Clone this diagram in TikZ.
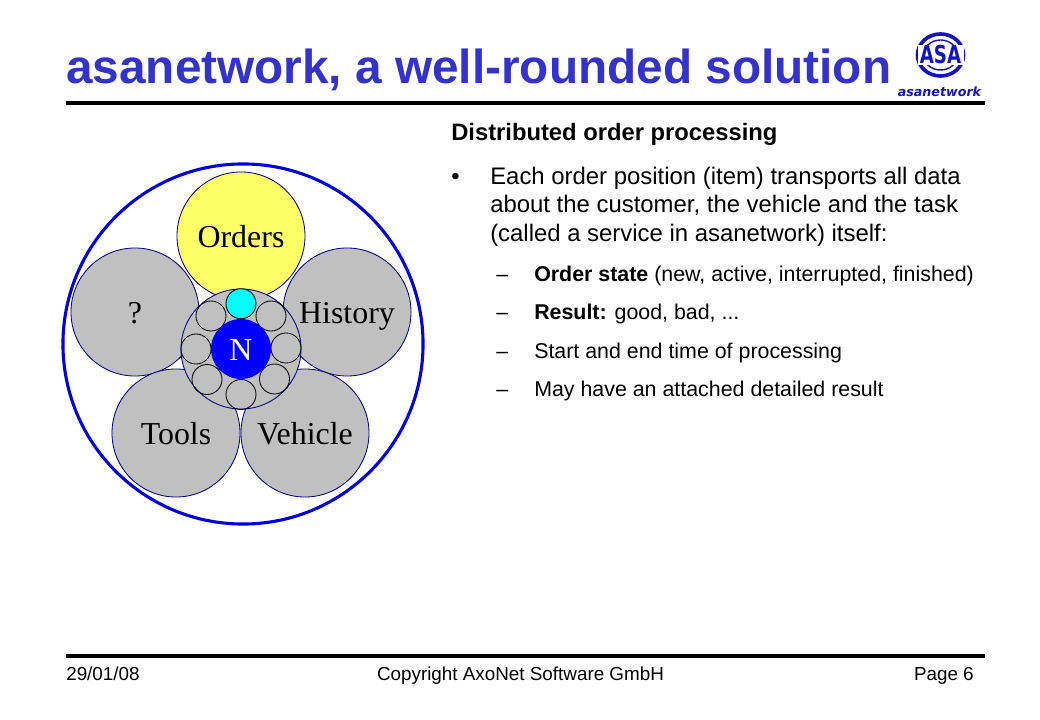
\documentclass[tikz,border=0pt]{standalone}
\usepackage{fontspec}
\setmainfont{Liberation Sans}
\newfontfamily\petalfont{Liberation Serif}
\newfontfamily\logofont{DejaVu Sans}
\usetikzlibrary{shapes.geometric}
\definecolor{titleblue}{RGB}{51,51,204}
\definecolor{ringblue}{RGB}{0,0,220}
\definecolor{petalgray}{RGB}{192,192,192}
\definecolor{petalline}{RGB}{0,0,128}
\definecolor{ordersyellow}{RGB}{255,255,102}
\definecolor{logoblue}{RGB}{20,20,190}
\definecolor{ballcyan}{RGB}{0,255,255}
\definecolor{coreblue}{RGB}{0,0,255}
\tikzset{
	petal/.style={circle, draw=petalline, line width=0.6pt, fill=petalgray, minimum size=128*0.7113pt, inner sep=0pt, text height=16.4pt, text depth=0pt, font=\petalfont\fontsize{22.7}{24}\selectfont},
	smallball/.style={circle, draw=black, line width=0.6pt, minimum size=30*0.7113pt, inner sep=0pt},
	bodytext/.style={anchor=base west, inner sep=0pt, font=\fontsize{17}{20}\selectfont},
	subtext/.style={anchor=base west, inner sep=0pt, font=\fontsize{15.2}{18}\selectfont},
	foottext/.style={inner sep=0pt, font=\fontsize{13.4}{16}\selectfont},
	rulebar/.style={line width=2.9pt}
}
\begin{document}
\begin{tikzpicture}[x=0.025cm, y=-0.025cm]
	%%%%% FRAME %%%%%
	\path[use as bounding box, fill=white] (0, 0) rectangle (1040, 720);

	\node[anchor=base west, inner sep=0pt, text=titleblue, font=\bfseries\fontsize{33.95}{36}\selectfont] (title) at (66, 83.5) {asanetwork, a well-rounded solution};
	\coordinate (ruleA) at (66, 103);
	\coordinate (ruleB) at (985, 103);
	\draw[rulebar] (ruleA) -- (ruleB);

	%%%%% LOGO %%%%%
	\node[draw=logoblue, ellipse, line width=2.6pt, minimum width=46*0.7113pt, minimum height=42*0.7113pt, inner sep=0pt] (logoring) at (940.5, 55) {};
	\node[draw=logoblue, ellipse, line width=1pt, minimum width=34*0.7113pt, minimum height=30*0.7113pt, inner sep=0pt] (logoinner) at (940.5, 55) {};
	\node[fill=white, minimum width=46*0.7113pt, minimum height=20*0.7113pt, inner sep=0pt] (logoback) at (940.5, 55) {};
	\node[inner sep=0pt, text=logoblue, xscale=0.74, font=\logofont\bfseries\fontsize{17.5}{18}\selectfont] (logoasa) at (940.5, 55) {ASA};
	\node[anchor=base, inner sep=0pt, text=logoblue, font=\logofont\bfseries\itshape\fontsize{9}{12}\selectfont] (logoname) at (939.5, 97) {asanetwork};

	%%%%% CIRCLES %%%%%
	\node[circle, draw=ringblue, line width=2.2pt, minimum size=360*0.7113pt, inner sep=0pt] (outer) at (243, 344) {};

	\node[petal, fill=ordersyellow] (orders) at (241, 236) {Orders};
	\node[petal] (unknown) at (135, 312) {?};
	\node[petal] (history) at (347, 312) {History};
	\node[petal] (tools) at (176, 433) {Tools};
	\node[petal] (vehicle) at (305, 433) {Vehicle};
	\node[petal, minimum size=120*0.7113pt] (hub) at (241, 349) {};

	\foreach \x/\y [count=\i] in {211/316, 271/316, 196/349, 286/348, 207/379.5, 274.5/379, 241/394.5}
		\node[smallball] (ball\i) at (\x, \y) {};
	\node[smallball, fill=ballcyan] (cyanball) at (241, 303.7) {};
	\node[circle, fill=coreblue, minimum size=60*0.7113pt, inner sep=0pt, text=white, text height=16.4pt, text depth=0pt, font=\petalfont\fontsize{22.7}{24}\selectfont] (core) at (241, 349) {N};

	%%%%% TEXT %%%%%
	\node[bodytext, font=\bfseries\fontsize{16.9}{20}\selectfont] (head) at (451, 141) {Distributed order processing};
	\node[bodytext] (dot) at (451, 185) {•};
	\node[bodytext] (lineA) at (490, 185) {Each order position (item) transports all data};
	\node[bodytext] (lineB) at (490, 213) {about the customer, the vehicle and the task};
	\node[bodytext] (lineC) at (490, 242) {(called a service in asanetwork) itself:};

	\foreach \y/\txt [count=\i] in {282/{\textbf{Order state} (new, active, interrupted, finished)}, 320/{\textbf{Result:} good, bad, ...}, 359/{Start and end time of processing}, 397/{May have an attached detailed result}} {
		\node[subtext] (dash\i) at (496, \y) {–};
		\node[subtext] (sub\i) at (534, \y) {\txt};
	}

	%%%%% FOOTER %%%%%
	\coordinate (ruleC) at (66, 656);
	\coordinate (ruleD) at (985, 656);
	\draw[rulebar] (ruleC) -- (ruleD);
	\node[foottext, anchor=base west] (date) at (66, 680) {29/01/08};
	\node[foottext, anchor=base] (copy) at (520.5, 680) {Copyright AxoNet Software GmbH};
	\node[foottext, anchor=base east] (page) at (974, 680) {Page 6};
\end{tikzpicture}
\end{document}
